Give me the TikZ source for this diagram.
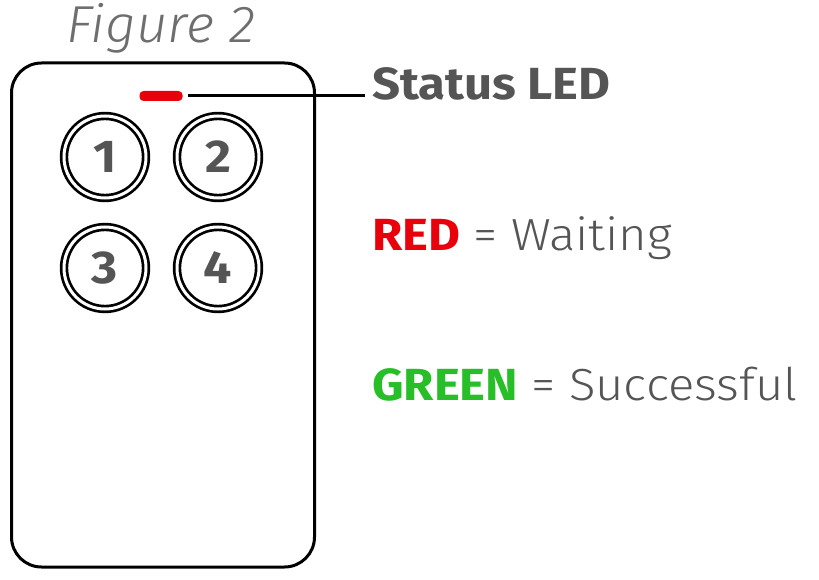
\documentclass[tikz,border=0pt]{standalone}
\usepackage{fontspec}
\setmainfont{Fira Sans}[FakeStretch=1.09]
\newfontfamily\lightfont{Fira Sans Light}[FakeStretch=1.09]
\newfontfamily\titlefont{Fira Sans Light}[FakeStretch=1.05]
\usepackage{tikz}
\usetikzlibrary{positioning}
\definecolor{txtgray}{RGB}{85,85,85}
\definecolor{ledred}{RGB}{232,0,10}
\definecolor{okgreen}{RGB}{40,190,40}

\begin{document}
\begin{tikzpicture}[x=1pt, y=-1pt,
    button/.style={circle, draw, line width=2.7pt, double, double distance=3pt,
        minimum size=82pt, inner sep=0pt, font=\fontsize{46}{46}\selectfont\bfseries, text=txtgray},
    legend/.style={anchor=base west, inner sep=0pt, font=\fontsize{45}{45}\selectfont, text=txtgray}]

\useasboundingbox (0,0) rectangle (819,580);

\node[draw, line width=3pt, rounded corners=30pt, minimum width=303pt, minimum height=504pt,
    inner sep=0pt] (remote) at (163,315) {};
\node[fill=ledred, rounded corners=4pt, minimum width=43pt, minimum height=10pt,
    inner sep=0pt] (led) at (161,96) {};

\node[button] (b1) at (105,157) {1};
\node[button] (b2) at (218,157) {2};
\node[button] (b3) at (105,268) {3};
\node[button] (b4) at (218,268) {4};

\node[anchor=base west, inner sep=0pt, text=txtgray!85,
    font=\fontsize{52}{52}\selectfont\titlefont\itshape] (title) at (66,43) {Figure 2};

\node[legend, font=\fontsize{45}{45}\selectfont\bfseries] (status) at (372,100) {Status LED};
\node[legend] (waiting) at (372,250) {\textcolor{ledred}{\bfseries RED} {\lightfont = Waiting}};
\node[legend] (success) at (372,400) {\textcolor{okgreen}{\bfseries GREEN} {\lightfont = Successful}};

\coordinate (ledtip) at (365,96);
\draw[line width=3pt, shorten <=5pt] (led.east) -- (ledtip);

\end{tikzpicture}
\end{document}
